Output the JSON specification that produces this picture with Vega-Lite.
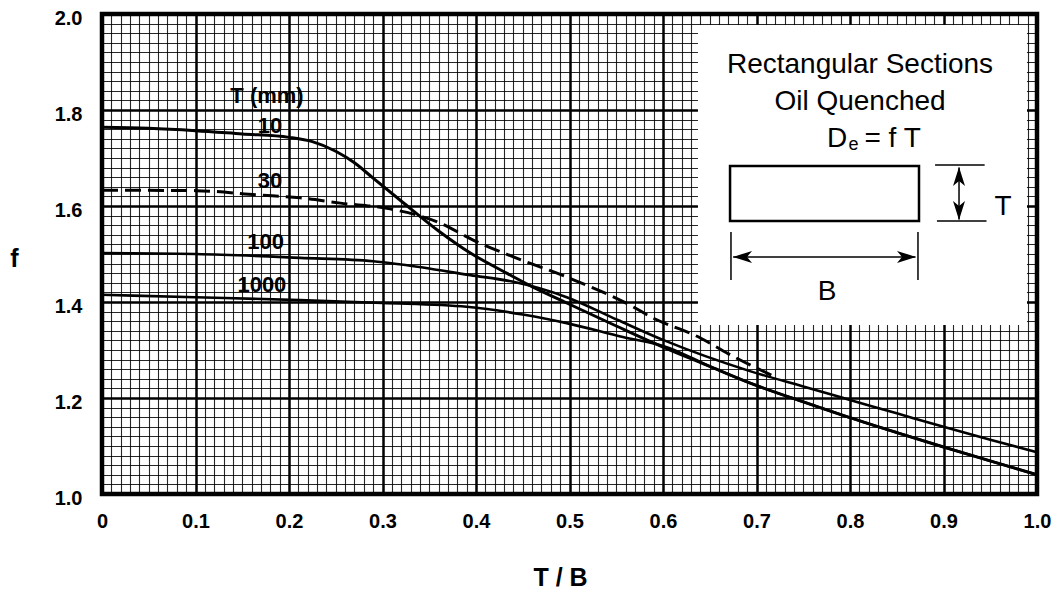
{
  "$schema": "https://vega.github.io/schema/vega-lite/v6.json",
  "width": 935,
  "height": 480,
  "autosize": {"type": "none"},
  "padding": {"left": 102, "top": 14, "right": 16, "bottom": 112},
  "background": "white",
  "config": {
    "view": {"stroke": "black", "strokeWidth": 4.5},
    "font": "Liberation Sans"
  },
  "datasets": {
    "curves": [
      {"T": "10", "x": 0, "f": 1.764}, {"T": "10", "x": 0.05, "f": 1.762}, {"T": "10", "x": 0.1, "f": 1.757},
      {"T": "10", "x": 0.15, "f": 1.75}, {"T": "10", "x": 0.2, "f": 1.743}, {"T": "10", "x": 0.225, "f": 1.734},
      {"T": "10", "x": 0.25, "f": 1.714}, {"T": "10", "x": 0.27, "f": 1.69}, {"T": "10", "x": 0.29, "f": 1.658},
      {"T": "10", "x": 0.319, "f": 1.612}, {"T": "10", "x": 0.36, "f": 1.548}, {"T": "10", "x": 0.394, "f": 1.502},
      {"T": "10", "x": 0.43, "f": 1.463}, {"T": "10", "x": 0.461, "f": 1.431}, {"T": "10", "x": 0.497, "f": 1.398},
      {"T": "10", "x": 0.55, "f": 1.35}, {"T": "10", "x": 0.6, "f": 1.306}, {"T": "10", "x": 0.65, "f": 1.266},
      {"T": "10", "x": 0.696, "f": 1.229}, {"T": "10", "x": 0.75, "f": 1.192}, {"T": "10", "x": 0.8, "f": 1.159},
      {"T": "10", "x": 0.85, "f": 1.128}, {"T": "10", "x": 0.9, "f": 1.098}, {"T": "10", "x": 0.95, "f": 1.069},
      {"T": "10", "x": 1.0, "f": 1.04},
      {"T": "30", "x": 0, "f": 1.633}, {"T": "30", "x": 0.1, "f": 1.632}, {"T": "30", "x": 0.166, "f": 1.623},
      {"T": "30", "x": 0.212, "f": 1.617}, {"T": "30", "x": 0.255, "f": 1.606}, {"T": "30", "x": 0.308, "f": 1.594},
      {"T": "30", "x": 0.361, "f": 1.565}, {"T": "30", "x": 0.397, "f": 1.529}, {"T": "30", "x": 0.44, "f": 1.494},
      {"T": "30", "x": 0.497, "f": 1.452}, {"T": "30", "x": 0.568, "f": 1.39}, {"T": "30", "x": 0.586, "f": 1.37},
      {"T": "30", "x": 0.64, "f": 1.325}, {"T": "30", "x": 0.67, "f": 1.292}, {"T": "30", "x": 0.72, "f": 1.244}
    ],
    "solid2": [
      {"T": "100", "x": 0, "f": 1.502}, {"T": "100", "x": 0.1, "f": 1.5}, {"T": "100", "x": 0.212, "f": 1.492},
      {"T": "100", "x": 0.29, "f": 1.485}, {"T": "100", "x": 0.32, "f": 1.478}, {"T": "100", "x": 0.394, "f": 1.456},
      {"T": "100", "x": 0.44, "f": 1.442}, {"T": "100", "x": 0.497, "f": 1.41}, {"T": "100", "x": 0.551, "f": 1.363},
      {"T": "100", "x": 0.6, "f": 1.321}, {"T": "100", "x": 0.693, "f": 1.256}, {"T": "100", "x": 0.75, "f": 1.224},
      {"T": "100", "x": 0.8, "f": 1.196}, {"T": "100", "x": 0.85, "f": 1.168}, {"T": "100", "x": 0.9, "f": 1.14},
      {"T": "100", "x": 0.95, "f": 1.113}, {"T": "100", "x": 1.0, "f": 1.087},
      {"T": "1000", "x": 0, "f": 1.415}, {"T": "1000", "x": 0.1, "f": 1.41}, {"T": "1000", "x": 0.212, "f": 1.404},
      {"T": "1000", "x": 0.3, "f": 1.398}, {"T": "1000", "x": 0.39, "f": 1.39}, {"T": "1000", "x": 0.45, "f": 1.374},
      {"T": "1000", "x": 0.497, "f": 1.356}, {"T": "1000", "x": 0.557, "f": 1.327}, {"T": "1000", "x": 0.604, "f": 1.306},
      {"T": "1000", "x": 0.65, "f": 1.266}, {"T": "1000", "x": 0.696, "f": 1.229}, {"T": "1000", "x": 0.75, "f": 1.192},
      {"T": "1000", "x": 0.8, "f": 1.159}, {"T": "1000", "x": 0.85, "f": 1.128}, {"T": "1000", "x": 0.9, "f": 1.098},
      {"T": "1000", "x": 0.95, "f": 1.069}, {"T": "1000", "x": 1.0, "f": 1.04}
    ],
    "labels": [
      {"label": "T (mm)", "x": 0.1765, "f": 1.829},
      {"label": "10", "x": 0.1797, "f": 1.767},
      {"label": "30", "x": 0.1797, "f": 1.652},
      {"label": "100", "x": 0.175, "f": 1.525},
      {"label": "1000", "x": 0.171, "f": 1.435}
    ],
    "box": [{"x": 0.6374, "x2": 0.9893, "f": 1.977, "f2": 1.352}],
    "section": [{"x": 0.6717, "x2": 0.8738, "f": 1.6833, "f2": 1.5688}],
    "dimlines": [
      {"x": 0.891, "x2": 0.944, "f": 1.6854, "f2": 1.6854},
      {"x": 0.893, "x2": 0.946, "f": 1.5688, "f2": 1.5688},
      {"x": 0.9166, "x2": 0.9166, "f": 1.68, "f2": 1.572},
      {"x": 0.6727, "x2": 0.6727, "f": 1.546, "f2": 1.446},
      {"x": 0.8727, "x2": 0.8727, "f": 1.546, "f2": 1.446},
      {"x": 0.675, "x2": 0.87, "f": 1.494, "f2": 1.494}
    ],
    "arrows": [
      {"dir": "up", "x": 0.9166, "f": 1.6604},
      {"dir": "down", "x": 0.9166, "f": 1.5917},
      {"dir": "left", "x": 0.6856, "f": 1.494},
      {"dir": "right", "x": 0.8599, "f": 1.494}
    ],
    "insetcenter": [
      {"label": "Rectangular Sections", "x": 0.8107, "f": 1.877},
      {"label": "Oil Quenched", "x": 0.8107, "f": 1.8},
      {"label": "T", "x": 0.9636, "f": 1.581},
      {"label": "B", "x": 0.7754, "f": 1.404}
    ],
    "insetleft": [
      {"label": "D", "x": 0.7753, "f": 1.723},
      {"label": "= f T", "x": 0.8155, "f": 1.723}
    ],
    "insetsub": [
      {"label": "e", "x": 0.7985, "f": 1.716}
    ]
  },
  "encoding": {
    "x": {"field": "x", "type": "quantitative", "scale": {"domain": [0, 1], "nice": false, "zero": false}, "axis": null},
    "y": {"field": "f", "type": "quantitative", "scale": {"domain": [1, 2], "nice": false, "zero": false}, "axis": null}
  },
  "layer": [
    {
      "data": {"name": "labels"},
      "mark": {"type": "point", "opacity": 0},
      "encoding": {
        "x": {"field": "x", "type": "quantitative", "scale": {"domain": [0, 1], "nice": false, "zero": false},
          "axis": {"orient": "bottom", "tickCount": 100, "grid": true, "gridColor": "#000", "gridWidth": 1.1, "gridOpacity": 0.85,
            "labels": false, "ticks": false, "domain": false, "title": null}},
        "y": {"field": "f", "type": "quantitative", "scale": {"domain": [1, 2], "nice": false, "zero": false},
          "axis": {"orient": "left", "tickCount": 50, "grid": true, "gridColor": "#000", "gridWidth": 1.1, "gridOpacity": 0.85,
            "labels": false, "ticks": false, "domain": false, "title": null}}
      }
    },
    {
      "data": {"name": "labels"},
      "mark": {"type": "point", "opacity": 0},
      "encoding": {
        "x": {"field": "x", "type": "quantitative", "scale": {"domain": [0, 1], "nice": false, "zero": false},
          "axis": {"orient": "bottom", "values": [0, 0.1, 0.2, 0.3, 0.4, 0.5, 0.6, 0.7, 0.8, 0.9, 1.0],
            "grid": true, "gridColor": "#000", "gridWidth": 2.5, "ticks": false, "tickSize": 0, "domain": false,
            "labelExpr": "datum.value == 0 ? '0' : format(datum.value, '.1f')",
            "labelFont": "Liberation Sans", "labelFontWeight": "bold", "labelFontSize": 20, "labelColor": "#000",
            "labelPadding": 17, "labelBaseline": "top", "labelFlush": false, "labelOverlap": false,
            "title": "T / B", "titleFont": "Liberation Sans", "titleFontSize": 25, "titleFontWeight": "bold", "titleColor": "#000",
            "titleX": 458, "titleY": 83, "titleBaseline": "middle", "titleAnchor": "middle"}},
        "y": {"field": "f", "type": "quantitative", "scale": {"domain": [1, 2], "nice": false, "zero": false},
          "axis": {"orient": "left", "values": [1.0, 1.2, 1.4, 1.6, 1.8, 2.0],
            "grid": true, "gridColor": "#000", "gridWidth": 2.5, "ticks": false, "tickSize": 0, "domain": false,
            "format": ".1f", "labelFont": "Liberation Sans", "labelFontWeight": "bold", "labelFontSize": 20, "labelColor": "#000",
            "labelPadding": 20, "labelOffset": 4, "labelFlush": false, "labelOverlap": false,
            "title": "f", "titleFont": "Liberation Sans", "titleFontSize": 25, "titleFontWeight": "bold", "titleColor": "#000",
            "titleAngle": 0, "titleX": -88, "titleY": 244, "titleBaseline": "middle", "titleAlign": "center"}}
      }
    },
    {
      "data": {"name": "box"},
      "mark": {"type": "rect", "fill": "white", "stroke": null},
      "encoding": {
        "x2": {"field": "x2"},
        "y2": {"field": "f2"}
      }
    },
    {
      "data": {"name": "curves"},
      "transform": [{"filter": "datum.T == '10'"}],
      "mark": {"type": "line", "interpolate": "monotone", "color": "black", "strokeWidth": 3},
      "encoding": {"detail": {"field": "T"}}
    },
    {
      "data": {"name": "curves"},
      "transform": [{"filter": "datum.T == '30'"}],
      "mark": {"type": "line", "interpolate": "monotone", "color": "black", "strokeWidth": 3, "strokeDash": [16, 7]},
      "encoding": {"detail": {"field": "T"}}
    },
    {
      "data": {"name": "solid2"},
      "mark": {"type": "line", "interpolate": "monotone", "color": "black", "strokeWidth": 2.6},
      "encoding": {"detail": {"field": "T"}}
    },
    {
      "data": {"name": "labels"},
      "mark": {"type": "text", "font": "Liberation Sans", "fontWeight": "bold", "fontSize": 22, "color": "black", "align": "center", "baseline": "middle"},
      "encoding": {"text": {"field": "label"}}
    },
    {
      "data": {"name": "section"},
      "mark": {"type": "rect", "fill": null, "stroke": "black", "strokeWidth": 2.5},
      "encoding": {
        "x2": {"field": "x2"},
        "y2": {"field": "f2"}
      }
    },
    {
      "data": {"name": "dimlines"},
      "mark": {"type": "rule", "color": "black", "strokeWidth": 1.5},
      "encoding": {
        "x2": {"field": "x2"},
        "y2": {"field": "f2"}
      }
    },
    {
      "data": {"name": "arrows"},
      "transform": [{"filter": "datum.dir == 'up'"}],
      "mark": {"type": "point", "shape": "M0,-1L0.6,0.9L0,0.4L-0.6,0.9Z", "filled": true, "color": "black", "opacity": 1, "size": 400}
    },
    {
      "data": {"name": "arrows"},
      "transform": [{"filter": "datum.dir == 'down'"}],
      "mark": {"type": "point", "shape": "M0,1L0.6,-0.9L0,-0.4L-0.6,-0.9Z", "filled": true, "color": "black", "opacity": 1, "size": 400}
    },
    {
      "data": {"name": "arrows"},
      "transform": [{"filter": "datum.dir == 'left'"}],
      "mark": {"type": "point", "shape": "M-1,0L0.9,-0.6L0.4,0L0.9,0.6Z", "filled": true, "color": "black", "opacity": 1, "size": 400}
    },
    {
      "data": {"name": "arrows"},
      "transform": [{"filter": "datum.dir == 'right'"}],
      "mark": {"type": "point", "shape": "M1,0L-0.9,-0.6L-0.4,0L-0.9,0.6Z", "filled": true, "color": "black", "opacity": 1, "size": 400}
    },
    {
      "data": {"name": "insetcenter"},
      "mark": {"type": "text", "font": "Liberation Sans", "fontSize": 28, "color": "black", "align": "center", "baseline": "alphabetic"},
      "encoding": {"text": {"field": "label"}}
    },
    {
      "data": {"name": "insetleft"},
      "mark": {"type": "text", "font": "Liberation Sans", "fontSize": 28, "color": "black", "align": "left", "baseline": "alphabetic"},
      "encoding": {"text": {"field": "label"}}
    },
    {
      "data": {"name": "insetsub"},
      "mark": {"type": "text", "font": "Liberation Sans", "fontSize": 18, "color": "black", "align": "left", "baseline": "alphabetic"},
      "encoding": {"text": {"field": "label"}}
    }
  ],
  "resolve": {"axis": {"x": "independent", "y": "independent"}}
}
